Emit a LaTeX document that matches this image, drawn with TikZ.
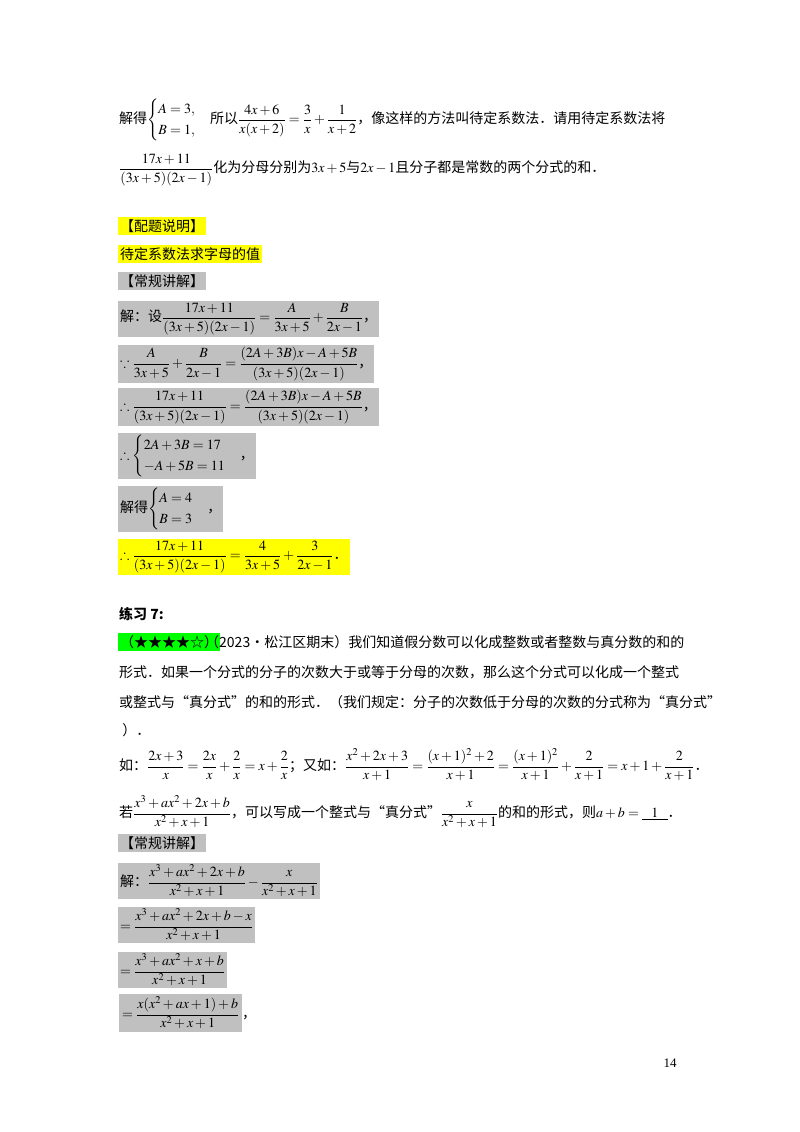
\documentclass[tikz,border=0pt]{standalone}
\usepackage{amsmath}
\usepackage{mathptmx}
\usepackage{amssymb}
\usepackage{fontspec}
\setmainfont{Liberation Serif}
\newfontfamily\cjk{Noto Sans CJK SC}
\definecolor{gbox}{HTML}{C0C0C0}
\definecolor{ybox}{HTML}{FFFF00}
\definecolor{grn}{HTML}{00FF00}
\tikzset{
 txt/.style={anchor=west,inner sep=1pt,font=\fontsize{14}{17}\selectfont},
 gb/.style={txt,fill=gbox,inner sep=2pt},
 yb/.style={txt,fill=ybox,inner sep=2pt},
}
\newcommand{\C}[1]{{\cjk #1}}
\begin{document}
\begin{tikzpicture}[x=1pt,y=-1pt]
\useasboundingbox (0,0) rectangle (800,1132);
\fill[white] (0,0) rectangle (800,1132);
\node[txt] (l1) at (118,120) {\C{解得}$\begin{cases}A=3,\\ B=1,\end{cases}$\C{所以}$\dfrac{4x+6}{x(x+2)}=\dfrac{3}{x}+\dfrac{1}{x+2}$\C{，像这样的方法叫待定系数法．请用待定系数法将}};
\node[txt] (l2) at (118,170) {$\dfrac{17x+11}{(3x+5)(2x-1)}$\C{化为分母分别为}$3x+5$\C{与}$2x-1$\C{且分子都是常数的两个分式的和．}};
\node[yb] (h1) at (118,226) {\C{【配题说明】}};
\node[yb] (h2) at (118,254) {\C{待定系数法求字母的值}};
\node[gb] (h3) at (118,281) {\C{【常规讲解】}};
\node[gb] (b1) at (118,319) {\C{解：设}$\dfrac{17x+11}{(3x+5)(2x-1)}=\dfrac{A}{3x+5}+\dfrac{B}{2x-1}$\C{，}};
\node[gb] (b2) at (118,364) {$\because\dfrac{A}{3x+5}+\dfrac{B}{2x-1}=\dfrac{(2A+3B)x-A+5B}{(3x+5)(2x-1)}$\C{，}};
\node[gb] (b3) at (118,407) {$\therefore\dfrac{17x+11}{(3x+5)(2x-1)}=\dfrac{(2A+3B)x-A+5B}{(3x+5)(2x-1)}$\C{，}};
\node[gb] (b4) at (118,456) {$\therefore\begin{cases}2A+3B=17\\ -A+5B=11\end{cases}$\C{，}};
\node[gb] (b5) at (118,509) {\C{解得}$\begin{cases}A=4\\ B=3\end{cases}$\C{，}};
\node[yb] (b6) at (118,557) {$\therefore\dfrac{17x+11}{(3x+5)(2x-1)}=\dfrac{4}{3x+5}+\dfrac{3}{2x-1}$\C{．}};
\node[txt] (p7) at (118,614) {\C{\bfseries 练习 7:}};
\node[txt,fill=grn,inner sep=2pt] (star) at (118,642) {\C{（★★★★☆）}};
\node[txt] (q1) at (204,642) {\C{（2023•松江区期末）我们知道假分数可以化成整数或者整数与真分数的和的}};
\node[txt] (q2) at (118,672) {\C{形式．如果一个分式的分子的次数大于或等于分母的次数，那么这个分式可以化成一个整式}};
\node[txt] (q3) at (118,702) {\C{或整式与“真分式”的和的形式．（我们规定：分子的次数低于分母的次数的分式称为“真分式”}};
\node[txt] (q4) at (118,730) {\C{ ）．}};
\node[txt] (q5) at (118,765) {\C{如：}$\dfrac{2x+3}{x}=\dfrac{2x}{x}+\dfrac{2}{x}=x+\dfrac{2}{x}$\C{；又如：}$\dfrac{x^2+2x+3}{x+1}=\dfrac{(x+1)^2+2}{x+1}=\dfrac{(x+1)^2}{x+1}+\dfrac{2}{x+1}=x+1+\dfrac{2}{x+1}$\C{．}};
\node[txt] (q6) at (118,812) {\C{若}$\dfrac{x^3+ax^2+2x+b}{x^2+x+1}$\C{，可以写成一个整式与“真分式”}$\dfrac{x}{x^2+x+1}$\C{的和的形式，则}$a+b=\underline{\;\;\;1\;\;\;}$\C{．}};
\node[gb] (h4) at (118,843) {\C{【常规讲解】}};
\node[gb] (c1) at (118,881) {\C{解：}$\dfrac{x^3+ax^2+2x+b}{x^2+x+1}-\dfrac{x}{x^2+x+1}$};
\node[gb] (c2) at (118,925) {$=\dfrac{x^3+ax^2+2x+b-x}{x^2+x+1}$};
\node[gb] (c3) at (118,970) {$=\dfrac{x^3+ax^2+x+b}{x^2+x+1}$};
\node[txt] (c4) at (118,1013) {\colorbox{gbox}{$=\dfrac{x(x^2+ax+1)+b}{x^2+x+1}$}\C{，}};
\node[anchor=center,font=\fontsize{13}{15}\selectfont] (pg) at (670,1063) {14};
\end{tikzpicture}
\end{document}
